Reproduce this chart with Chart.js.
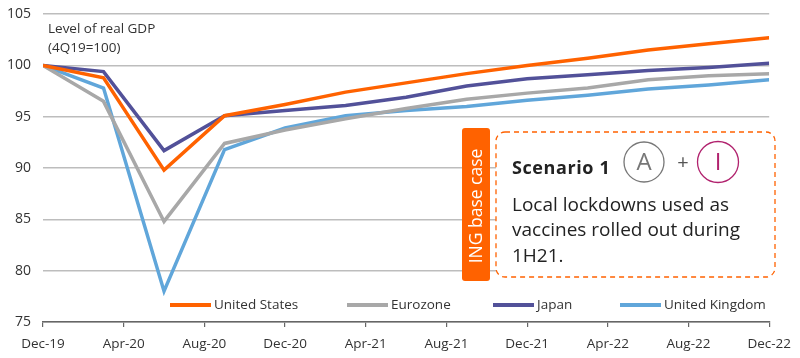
<!DOCTYPE html>
<html>
<head>
<meta charset="utf-8">
<script src="https://cdn.jsdelivr.net/npm/chart.js@4.4.1/dist/chart.umd.min.js"></script>
<style>
  html, body { margin: 0; padding: 0; background: #fff; }
  #wrap { width: 800px; height: 358px; position: relative; }
</style>
</head>
<body>
<div id="wrap"><canvas id="gdpChart"></canvas></div>
<script>
// quarterly points, Dec-19 .. Dec-22
const quarters = ["Dec-19", "Mar-20", "Jun-20", "Sep-20", "Dec-20", "Mar-21", "Jun-21",
  "Sep-21", "Dec-21", "Mar-22", "Jun-22", "Sep-22", "Dec-22"];
const tickLabels = ["Dec-19", "Apr-20", "Aug-20", "Dec-20", "Apr-21", "Aug-21", "Dec-21",
  "Apr-22", "Aug-22", "Dec-22"];

const usValues = [100, 98.8, 89.8, 95.1, 96.2, 97.4, 98.3, 99.2, 100.0, 100.7, 101.5, 102.1, 102.7];
const ezValues = [100, 96.5, 84.8, 92.4, 93.7, 94.8, 95.8, 96.7, 97.3, 97.8, 98.6, 99.0, 99.2];
const jpValues = [100, 99.4, 91.7, 95.1, 95.6, 96.1, 96.9, 98.0, 98.7, 99.1, 99.5, 99.8, 100.2];
const ukValues = [100, 97.8, 78.0, 91.8, 93.9, 95.1, 95.6, 96.0, 96.6, 97.1, 97.7, 98.1, 98.6];

const fontName = "'Open Sans', 'Noto Sans', sans-serif";

function toPoints(values) {
  // months since Dec-19, three per quarter
  return values.map((v, i) => ({ x: i * 3, y: v }));
}

const legendPlugin = {
  id: "bottomLegend",
  afterDatasetsDraw(chart) {
    const ctx = chart.ctx;
    const spots = [170, 347, 493, 620];
    ctx.save();
    ctx.font = "13.5px " + fontName;
    ctx.textBaseline = "middle";
    chart.data.datasets.forEach((ds, i) => {
      const x = spots[i];
      const y = 305;
      ctx.strokeStyle = ds.borderColor;
      ctx.lineWidth = 4;
      ctx.beginPath();
      ctx.moveTo(x, y);
      ctx.lineTo(x + 41, y);
      ctx.stroke();
      ctx.fillStyle = "#333";
      ctx.fillText(ds.label, x + 44, y);
    });
    ctx.restore();
  }
};

const notesPlugin = {
  id: "notes",
  afterDraw(chart) {
    const ctx = chart.ctx;
    ctx.save();

    // axis title
    ctx.fillStyle = "#333";
    ctx.font = "13.5px " + fontName;
    ctx.textBaseline = "alphabetic";
    ctx.fillText("Level of real GDP", 48, 33);
    ctx.fillText("(4Q19=100)", 48, 52);

    // scenario box
    ctx.fillStyle = "#fff";
    ctx.strokeStyle = "#ff6200";
    ctx.lineWidth = 1.3;
    ctx.setLineDash([5, 4]);
    ctx.beginPath();
    ctx.roundRect(496, 132, 279, 145, 9);
    ctx.fill();
    ctx.stroke();
    ctx.setLineDash([]);

    // ING base case tab
    ctx.fillStyle = "#ff6200";
    ctx.beginPath();
    ctx.roundRect(462, 128, 28, 153, 3);
    ctx.fill();
    ctx.save();
    ctx.translate(477, 206);
    ctx.rotate(-Math.PI / 2);
    ctx.fillStyle = "#fff";
    ctx.font = "17.5px " + fontName;
    ctx.textAlign = "center";
    ctx.textBaseline = "middle";
    ctx.fillText("ING base case", 0, 0);
    ctx.restore();

    ctx.fillStyle = "#222";
    ctx.font = "bold 18px " + fontName;
    ctx.letterSpacing = "0.6px";
    ctx.fillText("Scenario 1", 512, 174);
    ctx.letterSpacing = "0px";

    // letter circles
    ctx.lineWidth = 1.3;
    ctx.strokeStyle = "#777";
    ctx.beginPath();
    ctx.arc(644, 162, 20, 0, Math.PI * 2);
    ctx.stroke();
    ctx.strokeStyle = "#b1226e";
    ctx.beginPath();
    ctx.arc(718, 162, 20.5, 0, Math.PI * 2);
    ctx.stroke();
    ctx.textAlign = "center";
    ctx.textBaseline = "middle";
    ctx.font = "24px " + fontName;
    ctx.fillStyle = "#777";
    ctx.fillText("A", 644, 163);
    ctx.fillStyle = "#b1226e";
    ctx.fillText("I", 718, 163);
    ctx.fillStyle = "#555";
    ctx.font = "20px " + fontName;
    ctx.fillText("+", 683, 163);

    ctx.textAlign = "left";
    ctx.textBaseline = "alphabetic";
    ctx.fillStyle = "#222";
    ctx.font = "19px " + fontName;
    ctx.fillText("Local lockdowns used as", 512, 211);
    ctx.fillText("vaccines rolled out during", 512, 236);
    ctx.fillText("1H21.", 512, 262);

    ctx.restore();
  }
};

function makeSeries(label, values, color) {
  return {
    label: label,
    data: toPoints(values),
    borderColor: color,
    backgroundColor: color,
    borderWidth: 3.5,
    pointRadius: 0,
    tension: 0,
    fill: false
  };
}

new Chart(document.getElementById("gdpChart"), {
  type: "line",
  data: {
    datasets: [
      makeSeries("United States", usValues, "#ff6200"),
      makeSeries("Eurozone", ezValues, "#a8a8a8"),
      makeSeries("Japan", jpValues, "#525199"),
      makeSeries("United Kingdom", ukValues, "#60a6da")
    ]
  },
  options: {
    responsive: true,
    maintainAspectRatio: false,
    animation: false,
    layout: { padding: { top: 0, right: 30, left: 0, bottom: 0 } },
    plugins: {
      legend: { display: false },
      tooltip: { enabled: false }
    },
    scales: {
      x: {
        type: "linear",
        min: 0,
        max: 36,
        afterFit(axis) { axis.height = 36; },
        afterBuildTicks(axis) {
          axis.ticks = tickLabels.map((t, i) => ({ value: i * 4 }));
        },
        ticks: {
          autoSkip: false,
          maxRotation: 0,
          padding: 9,
          color: "#333",
          font: { family: fontName, size: 13.5 },
          callback: (v) => tickLabels[v / 4]
        },
        grid: {
          drawOnChartArea: false,
          drawTicks: true,
          tickLength: 5,
          color: "#666",
          lineWidth: 1.2
        },
        border: { display: true, color: "#666", width: 1.5 }
      },
      y: {
        min: 75,
        max: 105,
        afterFit(axis) { axis.width = 43; },
        ticks: {
          stepSize: 5,
          padding: 12,
          color: "#333",
          // small lineHeight keeps the top label overflow small
          font: { family: fontName, size: 14, lineHeight: 0.3 }
        },
        grid: {
          color: "#bdbdbd",
          lineWidth: 1.5,
          drawTicks: false
        },
        border: { display: false }
      }
    }
  },
  plugins: [legendPlugin, notesPlugin]
});
</script>
</body>
</html>
